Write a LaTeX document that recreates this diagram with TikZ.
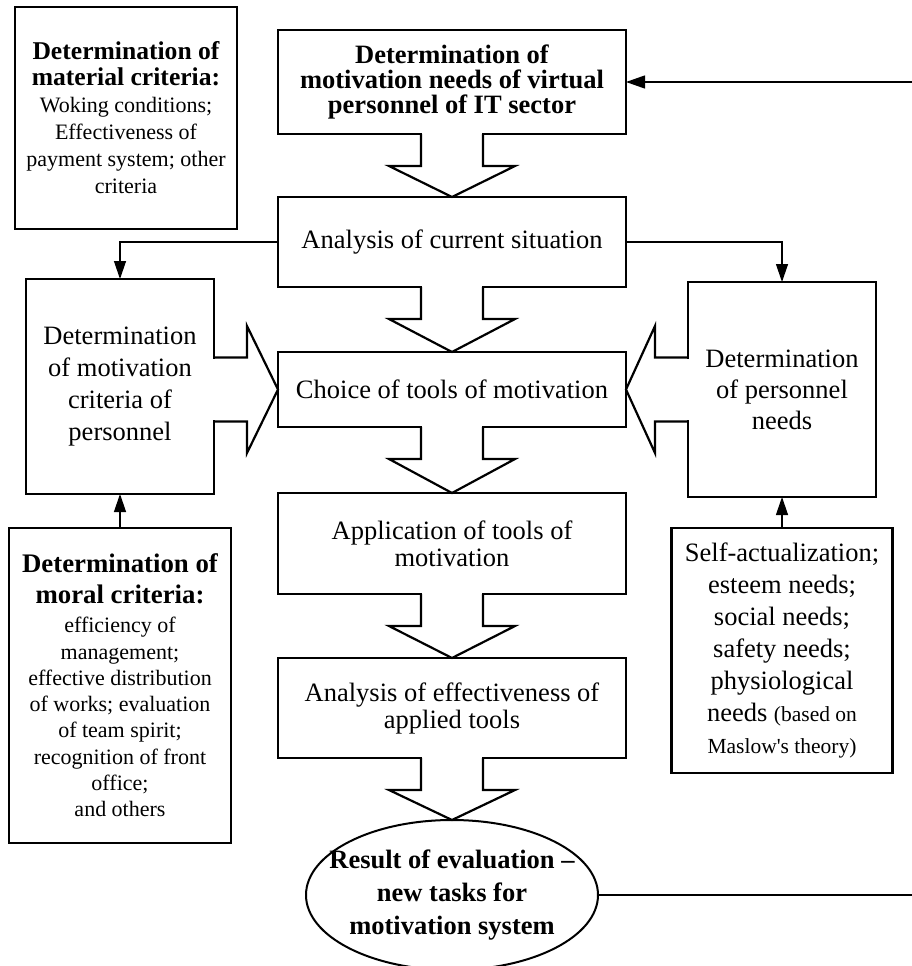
\documentclass[tikz,border=0pt]{standalone}
\usepackage{fontspec}
\setmainfont{Liberation Serif}
\usetikzlibrary{calc,arrows.meta,shapes.geometric}
\newcommand\boxtext[2]{\parbox{#1}{\centering #2}}
\newcommand\vblockarrow[2]{%
  \fill[white] ($(#1.south)+(-29.8,-1.6)$) rectangle ($(#1.south)+(29.8,1.6)$);
  \draw[blk] ($(#1.south)+(-31,0)$) -- ++(0,32) -- ++(-32,0) -- (#2.north) -- ($(#1.south)+(63,32)$) -- ++(-32,0) -- ++(0,-32);}
\begin{document}
\begin{tikzpicture}[x=1pt,y=-1pt,
  bx/.style={draw, line width=2.2pt, rectangle, outer sep=0pt, inner sep=0pt},
  ctr/.style={font=\fontsize{26.5}{27}\selectfont},
  conn/.style={line width=1.3pt, -{Triangle[length=18pt,width=12pt]}},
  blk/.style={line width=2.2pt, line join=miter, miter limit=20}]
\useasboundingbox (0,0) rectangle (912,966);

% left column
\node[bx, minimum width=222pt, minimum height=222pt] (mat) at (126,118)
  {\boxtext{214pt}{{\bfseries\fontsize{25.6}{26}\selectfont Determination of\\ material criteria:\\}\fontsize{22}{27}\selectfont Woking conditions;\\ Effectiveness of\\ payment system; other\\ criteria}};
\node[bx, minimum width=188pt, minimum height=215pt, font=\fontsize{26.5}{32}\selectfont] (left) at (120,386.5)
  {\boxtext{180pt}{Determination\\ of motivation\\ criteria of\\ personnel}};
\node[bx, minimum width=222pt, minimum height=315pt] (moral) at (120,685.5)
  {\boxtext{216pt}{{\bfseries\fontsize{26.8}{31}\selectfont Determination of\\ moral criteria:\\[2.7pt]}\fontsize{22}{26.3}\selectfont efficiency of\\ management;\\ effective distribution\\ of works; evaluation\\ of team spirit;\\ recognition of front\\ office;\\ and others}};

% centre column
\node[bx, minimum width=348pt, minimum height=104pt, font=\bfseries\fontsize{26.5}{25}\selectfont] (top) at (452,82)
  {\boxtext{340pt}{Determination of\\ motivation needs of virtual\\ personnel of IT sector}};
\node[bx, ctr, minimum width=348pt, minimum height=90pt] (ana) at (452,242)
  {\boxtext{340pt}{Analysis of current situation}};
\node[bx, ctr, minimum width=348pt, minimum height=75pt] (choice) at (452,389.5)
  {\boxtext{340pt}{Choice of tools of motivation}};
\node[bx, ctr, minimum width=348pt, minimum height=101pt] (app) at (452,543.5)
  {\boxtext{340pt}{Application of tools of\\ motivation}};
\node[bx, ctr, minimum width=348pt, minimum height=100pt] (eff) at (452,708)
  {\boxtext{340pt}{Analysis of effectiveness of\\ applied tools}};
\node[draw, ellipse, line width=2pt, minimum width=292pt, minimum height=150pt, inner sep=0pt, outer sep=0pt] (res) at (452,895) {};
\node[inner sep=0pt, font=\bfseries\fontsize{26.5}{33}\selectfont] (restext) at (res.center)
  {\boxtext{280pt}{Result of evaluation –\\ new tasks for\\ motivation system}};

% right column
\node[bx, minimum width=188pt, minimum height=215pt, font=\fontsize{26.5}{31}\selectfont] (right) at (782,389.5)
  {\boxtext{180pt}{Determination\\ of personnel\\ needs}};
\node[bx, minimum width=221pt, minimum height=245pt, font=\fontsize{26.5}{32}\selectfont] (maslow) at (782,650.5)
  {\boxtext{215pt}{Self-actualization;\\ esteem needs;\\ social needs;\\ safety needs;\\ physiological\\ needs {\fontsize{21.5}{32}\selectfont (based on}\\ {\fontsize{21.5}{32}\selectfont Maslow\textquotesingle s theory)}}};

% block arrows down the centre
\vblockarrow{top}{ana}
\vblockarrow{ana}{choice}
\vblockarrow{choice}{app}
\vblockarrow{app}{eff}
\vblockarrow{eff}{res}

% block arrows into the choice box
\coordinate (lb) at (left.east |- choice.west);
\fill[white] ($(lb)+(-1.6,-30.9)$) rectangle ($(lb)+(1.6,30.9)$);
\draw[blk] ($(lb)+(0,-32)$) -- ++(33,0) -- ++(0,-31.5) -- (choice.west) -- ($(lb)+(33,63.5)$) -- ++(0,-31.5) -- ++(-33,0);
\coordinate (rb) at (right.west |- choice.east);
\fill[white] ($(rb)+(-1.6,-30.9)$) rectangle ($(rb)+(1.6,30.9)$);
\draw[blk] ($(rb)+(0,-32)$) -- ++(-33,0) -- ++(0,-31.5) -- (choice.east) -- ($(rb)+(-33,63.5)$) -- ++(0,-31.5) -- ++(33,0);

% thin connectors
\draw[conn] (ana.west) -| (left.north);
\draw[conn] (ana.east) -| (right.north);
\draw[conn] (moral.north) -- (left.south);
\draw[conn] (maslow.north) -- (right.south);
\coordinate (fbin) at (912,82);
\draw[line width=1.3pt, -{Triangle[length=19pt,width=13pt]}] (fbin) -- (top.east);
\coordinate (fbout) at (912,895);
\draw[line width=1.3pt] (res.east) -- (fbout);
\end{tikzpicture}
\end{document}
